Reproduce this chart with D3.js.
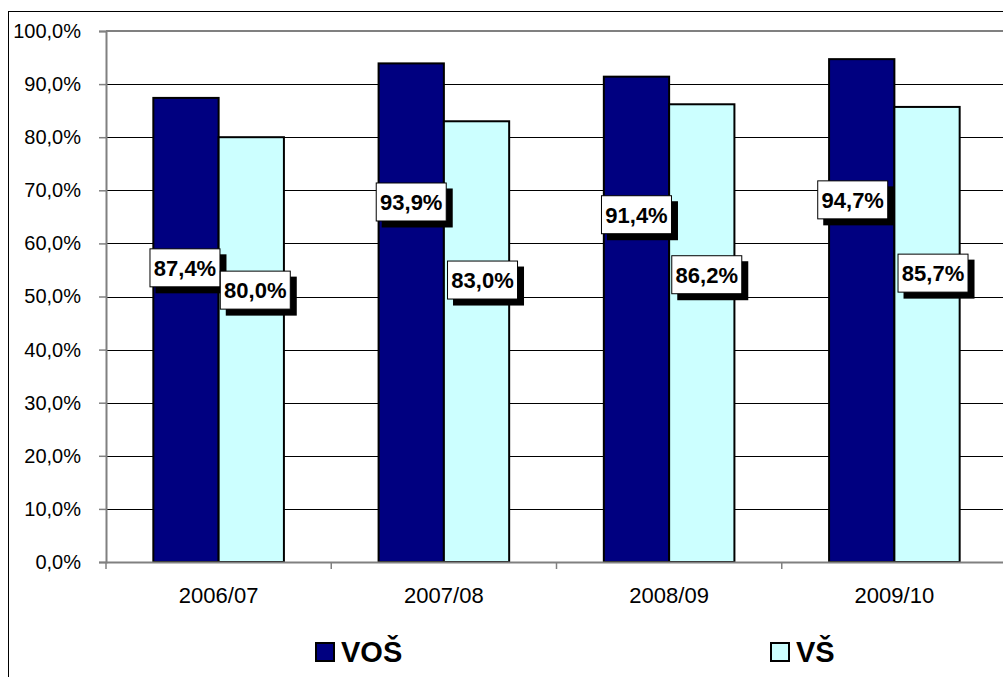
<!DOCTYPE html>
<html>
<head>
<meta charset="utf-8">
<script src="https://cdn.jsdelivr.net/npm/d3@7"></script>
<style>
  html, body { margin: 0; padding: 0; background: #fff; overflow: hidden; }
  svg { display: block; font-family: "Liberation Sans", Arial, sans-serif; }
</style>
</head>
<body>
<svg id="chart" width="1003" height="677"></svg>
<script>
// Academic years on the category axis
const categories = ["2006/07", "2007/08", "2008/09", "2009/10"];
// Series names and values (%)
const seriesNames = ["VOŠ", "VŠ"];
const vosValues = [87.4, 93.9, 91.4, 94.7];
const vsValues = [80.0, 83.0, 86.2, 85.7];
// Value-axis ticks
const yTicks = [0, 10, 20, 30, 40, 50, 60, 70, 80, 90, 100];

// Where each data label sits: height on the value scale and a small sideways nudge
const vosLabelAt = [55.4, 67.8, 65.4, 68.2];
const vsLabelAt = [51.2, 53.1, 54.1, 54.4];
const vosLabelDx = [-1, 0, 0, -9];
const vsLabelDx = [4, 6, 5, 6];

const colors = { "VOŠ": "#000080", "VŠ": "#CCFFFF" };

const svg = d3.select("#chart");
const plot = { left: 106, top: 31, right: 1007, bottom: 562 };

const fmt = v => d3.format(".1f")(v).replace(".", ",") + "%";

// Outer chart frame
svg.append("rect")
  .attr("x", 8.5).attr("y", 11.5)
  .attr("width", 1020).attr("height", 700)
  .attr("fill", "#fff").attr("stroke", "#000").attr("stroke-width", 1);

const x = d3.scaleBand().domain(categories).range([plot.left, plot.right]).padding(0);
const xs = d3.scaleBand().domain(seriesNames).range([0, x.bandwidth()])
  .paddingInner(0).paddingOuter(0.725);
const y = d3.scaleLinear().domain([0, 100]).range([plot.bottom, plot.top]);

// Horizontal gridlines
svg.append("g")
  .selectAll("line")
  .data(yTicks.filter(t => t > 0 && t < 100))
  .join("line")
  .attr("x1", plot.left).attr("x2", plot.right)
  .attr("y1", d => Math.round(y(d)) + 0.5).attr("y2", d => Math.round(y(d)) + 0.5)
  .attr("stroke", "#000").attr("stroke-width", 1);

// Top edge of the plot area
svg.append("line")
  .attr("x1", plot.left).attr("x2", plot.right)
  .attr("y1", y(100)).attr("y2", y(100))
  .attr("stroke", "#808080").attr("stroke-width", 2);

// Bars
const series = [
  { name: "VOŠ", values: vosValues, labelAt: vosLabelAt, labelDx: vosLabelDx },
  { name: "VŠ", values: vsValues, labelAt: vsLabelAt, labelDx: vsLabelDx }
];

const barData = [];
series.forEach(s => s.values.forEach((v, i) => barData.push({
  series: s.name, cat: categories[i], value: v, labelAt: s.labelAt[i], labelDx: s.labelDx[i]
})));

svg.append("g")
  .selectAll("rect")
  .data(barData)
  .join("rect")
  .attr("x", d => x(d.cat) + xs(d.series))
  .attr("y", d => y(d.value))
  .attr("width", xs.bandwidth())
  .attr("height", d => y(0) - y(d.value))
  .attr("fill", d => colors[d.series])
  .attr("stroke", "#000").attr("stroke-width", 2);

// Value axis
const yAxis = svg.append("g")
  .attr("transform", `translate(${plot.left},0)`)
  .call(d3.axisLeft(y).tickValues(yTicks).tickSize(7).tickPadding(18).tickFormat(fmt));
yAxis.select(".domain").attr("stroke", "#808080").attr("stroke-width", 2);
yAxis.selectAll(".tick line").attr("stroke", "#808080").attr("stroke-width", 1.5);
yAxis.selectAll(".tick text").attr("font-size", 20).attr("fill", "#000")
  .attr("font-family", "'Liberation Sans', Arial, sans-serif");

// Category axis
const xAxis = svg.append("g")
  .attr("transform", `translate(0,${plot.bottom})`)
  .call(d3.axisBottom(x).tickSize(0).tickPadding(25));
xAxis.select(".domain").attr("stroke", "#808080").attr("stroke-width", 2);
xAxis.selectAll(".tick text").attr("font-size", 22).attr("fill", "#000")
  .attr("font-family", "'Liberation Sans', Arial, sans-serif");
// Category separators below the axis
svg.append("g")
  .selectAll("line")
  .data(categories)
  .join("line")
  .attr("x1", d => x(d)).attr("x2", d => x(d))
  .attr("y1", plot.bottom).attr("y2", plot.bottom + 7)
  .attr("stroke", "#808080").attr("stroke-width", 1.5);

// Data labels: white boxes with a black drop shadow
const boxW = 71, boxH = 39, shadow = 6;
const labels = svg.append("g")
  .selectAll("g")
  .data(barData)
  .join("g")
  .attr("transform", d => `translate(${x(d.cat) + xs(d.series) + xs.bandwidth() / 2 + d.labelDx},${y(d.labelAt)})`);
labels.append("rect")
  .attr("x", -boxW / 2 + shadow).attr("y", -boxH / 2 + shadow)
  .attr("width", boxW).attr("height", boxH).attr("fill", "#000");
labels.append("rect")
  .attr("x", -boxW / 2 + 0.5).attr("y", -boxH / 2 + 0.5)
  .attr("width", boxW - 1).attr("height", boxH - 1)
  .attr("fill", "#fff").attr("stroke", "#000").attr("stroke-width", 1);
labels.append("text")
  .attr("text-anchor", "middle").attr("dy", "0.36em")
  .attr("font-size", 22).attr("font-weight", "bold")
  .text(d => fmt(d.value));

// Legend
const legendItems = [
  { name: "VOŠ", x: 315 },
  { name: "VŠ", x: 770 }
];
const legend = svg.append("g")
  .selectAll("g")
  .data(legendItems)
  .join("g")
  .attr("transform", d => `translate(${d.x},642)`);
legend.append("rect")
  .attr("x", 1).attr("y", 1).attr("width", 18).attr("height", 18)
  .attr("fill", d => colors[d.name]).attr("stroke", "#000").attr("stroke-width", 2);
legend.append("text")
  .attr("x", 26).attr("y", 20)
  .attr("font-size", 29).attr("font-weight", "bold")
  .text(d => d.name);
</script>
</body>
</html>
